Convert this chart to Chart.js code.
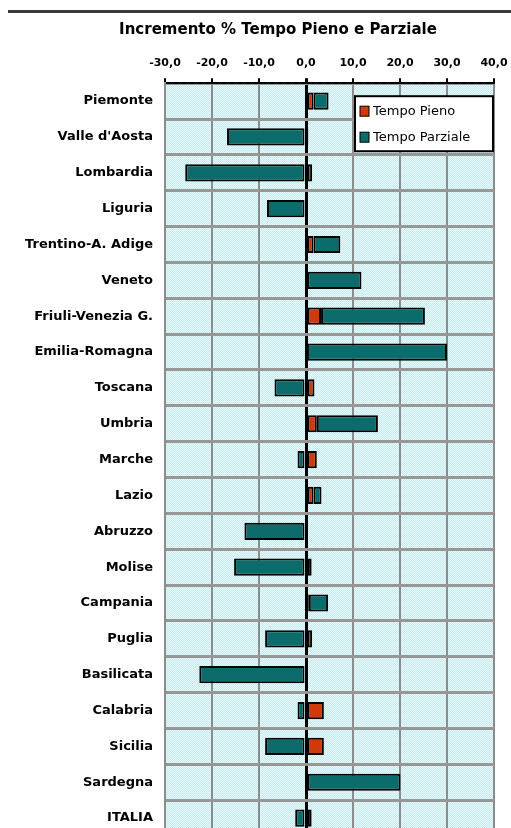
<!DOCTYPE html>
<html>
<head>
<meta charset="utf-8">
<script src="https://cdn.jsdelivr.net/npm/chart.js@4"></script>
<style>
  html, body { margin: 0; padding: 0; background: #fff; overflow: hidden; }
  #topRule { position: absolute; left: 8px; right: 0; top: 10px; height: 3px; background: #3a3a3a; }
  canvas { position: absolute; left: 0; top: 0; }
</style>
</head>
<body>
<canvas id="c" width="511" height="836"></canvas>
<div id="topRule"></div>
<script>
const titleText = 'Incremento % Tempo Pieno e Parziale';
const categories = ['Piemonte', "Valle d'Aosta", 'Lombardia', 'Liguria', 'Trentino-A. Adige', 'Veneto',
  'Friuli-Venezia G.', 'Emilia-Romagna', 'Toscana', 'Umbria', 'Marche', 'Lazio', 'Abruzzo', 'Molise',
  'Campania', 'Puglia', 'Basilicata', 'Calabria', 'Sicilia', 'Sardegna', 'ITALIA'];
const seriesNames = ['Tempo Pieno', 'Tempo Parziale'];
const tempoPieno = [1.6, 0.5, 1.3, 0.2, 1.6, 0.3, 3.2, 0.2, 1.8, 2.3, 2.3, 1.6, 0, 1.2, 0.6, 1.3, 0, 3.8, 3.8, 0, 1.2];
const tempoParziale = [3.2, -16.8, -25.7, -8.3, 5.7, 11.5, 22.1, 29.8, -6.7, 13.0, -1.8, 1.7, -13.1, -15.3, 4.1, -8.7, -22.7, -1.8, -8.7, 20.1, -2.3];
const xMin = -30, xMax = 40, xStep = 10;

const FONT = "'DejaVu Sans', sans-serif";

function makePattern(ctx) {
  const p = document.createElement('canvas');
  p.width = 2; p.height = 2;
  const g = p.getContext('2d');
  g.fillStyle = '#e4fbfd'; g.fillRect(0, 0, 2, 2);
  g.fillStyle = '#c9e9ec'; g.fillRect(1, 0, 1, 1); g.fillRect(0, 1, 1, 1);
  return ctx.createPattern(p, 'repeat');
}

const bgPlugin = {
  id: 'plotBg',
  beforeDraw(chart) {
    const { ctx, chartArea: a } = chart;
    ctx.save();
    ctx.fillStyle = makePattern(ctx);
    ctx.fillRect(a.left, a.top, a.right - a.left, a.bottom - a.top);
    ctx.restore();
  }
};

const titlePlugin = {
  id: 'offsetTitle',
  afterDraw(chart) {
    const { ctx } = chart;
    ctx.save();
    ctx.font = 'bold 15px ' + FONT;
    ctx.fillStyle = '#000';
    ctx.textAlign = 'center';
    ctx.textBaseline = 'middle';
    ctx.fillText(titleText, 278, 30);
    ctx.restore();
  }
};

const legendPlugin = {
  id: 'boxLegend',
  afterDraw(chart) {
    const { ctx, chartArea: a } = chart;
    const w = 138, h = 55;
    const x0 = a.right - w - 1, y0 = a.top + 13;
    ctx.save();
    ctx.fillStyle = '#fff';
    ctx.fillRect(x0, y0, w, h);
    ctx.strokeStyle = '#000';
    ctx.lineWidth = 2;
    ctx.strokeRect(x0, y0, w, h);
    ctx.font = '13px ' + FONT;
    ctx.textBaseline = 'middle';
    ctx.textAlign = 'left';
    chart.data.datasets.forEach((ds, i) => {
      const cy = y0 + 15 + i * 26;
      ctx.fillStyle = ds.backgroundColor;
      ctx.fillRect(x0 + 5, cy - 5, 9, 10);
      ctx.lineWidth = 1;
      ctx.strokeRect(x0 + 5, cy - 5, 9, 10);
      ctx.fillStyle = '#000';
      ctx.fillText(ds.label, x0 + 18, cy);
    });
    ctx.restore();
  }
};

new Chart(document.getElementById('c'), {
  type: 'bar',
  data: {
    labels: categories,
    datasets: [
      { label: seriesNames[0], data: tempoPieno, backgroundColor: '#d03a0a', borderColor: '#000', borderWidth: 2, borderSkipped: false },
      { label: seriesNames[1], data: tempoParziale, backgroundColor: '#0c6b6b', borderColor: '#000', borderWidth: 2, borderSkipped: false }
    ]
  },
  options: {
    indexAxis: 'y',
    responsive: false,
    animation: false,
    layout: { padding: { left: 0, right: 17, top: 49, bottom: 0 } },
    datasets: { bar: { categoryPercentage: 1, barPercentage: 0.48 } },
    plugins: {
      legend: { display: false },
      tooltip: { enabled: false },
      title: { display: false }
    },
    scales: {
      x: {
        position: 'top', stacked: true, min: xMin, max: xMax,
        afterFit: s => { s.paddingLeft = 0; s.paddingRight = 0; },
        ticks: {
          stepSize: xStep, color: '#000', padding: 8,
          font: { family: FONT, size: 11, weight: 'bold' },
          callback: v => v.toFixed(1).replace('.', ',')
        },
        grid: {
          color: c => (c.tick && c.tick.value === 0) ? '#000' : '#8c8c8c',
          lineWidth: c => (c.tick && c.tick.value === 0) ? 3 : 2,
          tickColor: '#000', tickLength: 5
        },
        border: { color: '#000', width: 2 }
      },
      y: {
        stacked: true,
        afterFit: s => { s.width = 165; s.paddingTop = 0; s.paddingBottom = 0; },
        ticks: { color: '#000', padding: 12, font: { family: FONT, size: 13, weight: 'bold' } },
        grid: { color: '#979797', lineWidth: 3, drawTicks: false, offset: true },
        border: { color: '#8c8c8c', width: 2 }
      }
    }
  },
  plugins: [bgPlugin, titlePlugin, legendPlugin]
});
</script>
</body>
</html>
